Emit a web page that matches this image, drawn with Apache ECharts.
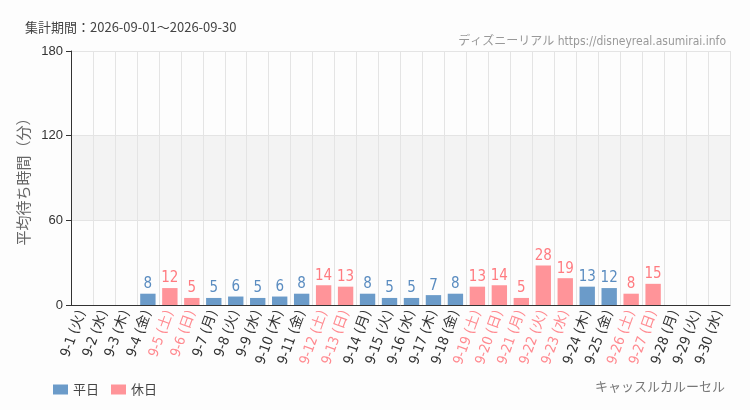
<!DOCTYPE html>
<html>

<head>
    <meta charset="utf-8">
    <title>ECharts</title>
    <script src="https://cdn.jsdelivr.net/npm/echarts@6/dist/echarts.min.js"></script>
    <style>
        body { margin: 0; background: #fdfdfd; }
    </style>
</head>

<body>
    <div id="main" style="width: 750px;height:410px;"></div>
    <script type="text/javascript">
        // 日付と曜日
        var days = ['9-1', '9-2', '9-3', '9-4', '9-5', '9-6', '9-7', '9-8', '9-9', '9-10',
            '9-11', '9-12', '9-13', '9-14', '9-15', '9-16', '9-17', '9-18', '9-19', '9-20',
            '9-21', '9-22', '9-23', '9-24', '9-25', '9-26', '9-27', '9-28', '9-29', '9-30'];
        var weekdays = ['火', '水', '木', '金', '土', '日', '月', '火', '水', '木',
            '金', '土', '日', '月', '火', '水', '木', '金', '土', '日',
            '月', '火', '水', '木', '金', '土', '日', '月', '火', '水'];
        // 1 = 休日
        var holiday = [0, 0, 0, 0, 1, 1, 0, 0, 0, 0,
            0, 1, 1, 0, 0, 0, 0, 0, 1, 1,
            1, 1, 1, 0, 0, 1, 1, 0, 0, 0];
        // 平均待ち時間（分）
        var waits = [null, null, null, 8, 12, 5, 5, 6, 5, 6,
            8, 14, 13, 8, 5, 5, 7, 8, 13, 14,
            5, 28, 19, 13, 12, 8, 15, null, null, null];
        var yTicks = [0, 60, 120, 180];

        var narrow = "'DejaVu Sans Condensed', 'Liberation Sans Narrow', 'Noto Sans CJK JP', sans-serif";
        var jp = "'Noto Sans CJK JP', sans-serif";

        var categories = days.map(function (d, i) { return d + ' (' + weekdays[i] + ')'; });
        var weekdayData = waits.map(function (v, i) { return holiday[i] ? null : v; });
        var holidayData = waits.map(function (v, i) { return holiday[i] ? v : null; });

        var myChart = echarts.init(document.getElementById('main'));
        option = {
            backgroundColor: '#fdfdfd',
            animation: false,
            title: [{
                text: '集計期間：2026-09-01～2026-09-30',
                left: 20, top: 16,
                textStyle: { fontSize: 13, fontWeight: 'normal', color: '#444', fontFamily: jp }
            }, {
                text: 'ディズニーリアル https://disneyreal.asumirai.info',
                right: 19, top: 31,
                textStyle: { fontSize: 12, fontWeight: 'normal', color: '#999', fontFamily: narrow }
            }, {
                text: 'キャッスルカルーセル',
                right: 20, top: 376,
                textStyle: { fontSize: 13, fontWeight: 'normal', color: '#777', fontFamily: narrow }
            }],
            legend: {
                left: 48, top: 378,
                itemWidth: 15, itemHeight: 10, itemGap: 12,
                icon: 'rect',
                textStyle: { fontSize: 13, color: '#444', fontFamily: jp },
                data: ['平日', '休日']
            },
            grid: { left: 71, right: 20, top: 51, bottom: 105 },
            xAxis: {
                type: 'category',
                data: categories,
                axisLine: { lineStyle: { color: '#333' } },
                axisTick: { alignWithLabel: true, lineStyle: { color: '#333' } },
                splitLine: { show: true, interval: 0, lineStyle: { color: '#e4e4e4' } },
                axisLabel: {
                    interval: 0, rotate: 70, fontSize: 14, fontFamily: narrow, margin: 6,
                    color: function (v, i) { return holiday[i] ? '#ff8a90' : '#333'; }
                }
            },
            yAxis: {
                type: 'value',
                min: yTicks[0], max: yTicks[yTicks.length - 1], interval: 60,
                name: '平均待ち時間（分）',
                nameLocation: 'middle', nameGap: 27,
                nameTextStyle: { fontSize: 15, color: '#666', fontFamily: jp },
                axisLine: { show: true, lineStyle: { color: '#333' } },
                axisTick: { show: true, lineStyle: { color: '#333' } },
                axisLabel: { fontSize: 13, color: '#333', margin: 8 },
                splitLine: { lineStyle: { color: '#e4e4e4' } },
                splitArea: { show: true, areaStyle: { color: ['rgba(255,255,255,0)', '#f3f3f3', 'rgba(255,255,255,0)'] } }
            },
            series: [{
                name: '平日',
                type: 'bar',
                stack: 'w',
                barWidth: '70%',
                data: weekdayData,
                itemStyle: { color: '#6b9bc9' },
                label: { show: true, position: 'top', fontSize: 15, color: '#5a8cc0', fontFamily: narrow, distance: 2 }
            }, {
                name: '休日',
                type: 'bar',
                stack: 'w',
                barWidth: '70%',
                data: holidayData,
                itemStyle: { color: '#ff9499' },
                label: { show: true, position: 'top', fontSize: 15, color: '#ff7b80', fontFamily: narrow, distance: 2 }
            }]
        };

        myChart.setOption(option);

    </script>
</body>

</html>
